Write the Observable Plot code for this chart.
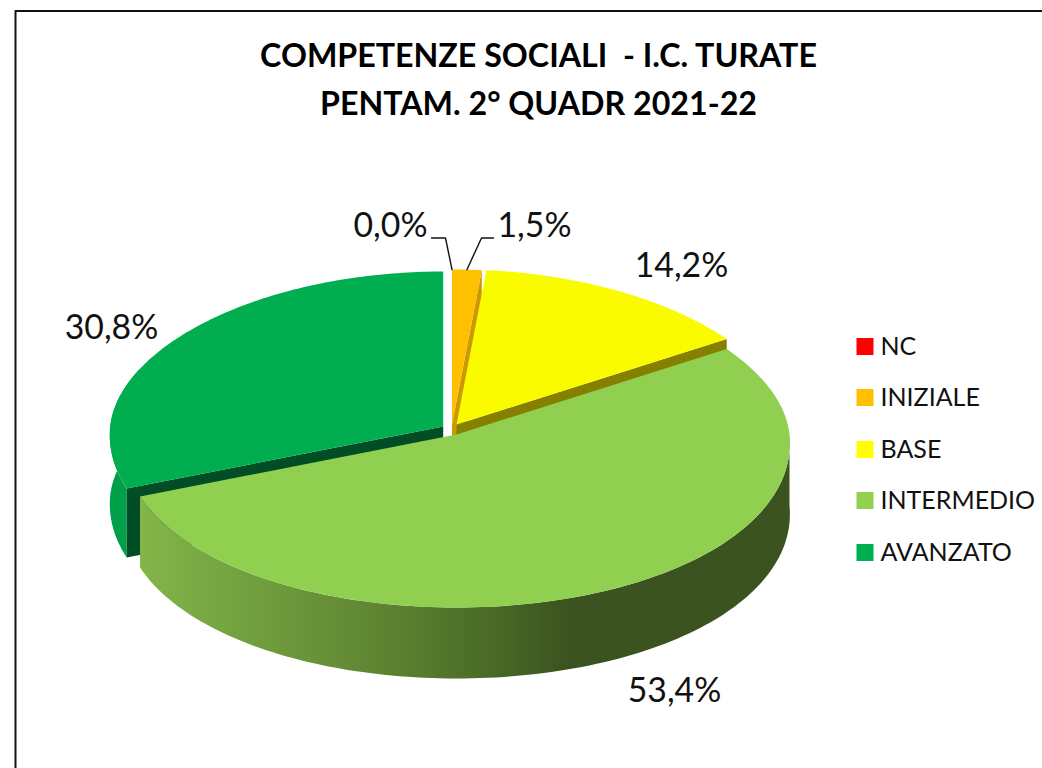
<!DOCTYPE html>
<html>
<head>
<meta charset="utf-8">
<script src="https://cdn.jsdelivr.net/npm/d3@7"></script>
<script src="https://cdn.jsdelivr.net/npm/@observablehq/plot@0.6"></script>
<style>
html,body{margin:0;padding:0;background:#fff;overflow:hidden}
svg{display:block}
</style>
</head>
<body>
<div id="chart"></div>
<script>
// ---- data ----
const categories = ["NC", "INIZIALE", "BASE", "INTERMEDIO", "AVANZATO"];
const values = [0.0, 1.5, 14.2, 53.4, 30.8];
const valueLabels = ["0,0%", "1,5%", "14,2%", "53,4%", "30,8%"];
const legendColors = ["#ff0000", "#ffc000", "#ffff00", "#92d050", "#00b050"];
const topColors = ["#ff0000", "#ffc000", "#fbfb00", "#90cf50", "#00ae50"];
const cutColors = ["#990000", "#cc9a00", "#858000", "#56792f", "#004d26"];
const titleLines = ["COMPETENZE SOCIALI  - I.C. TURATE", "PENTAM. 2° QUADR 2021-22"];

// ---- layout of the drawing (the slices' angles come from values) ----
const W = 1042, H = 768;
const depths = [71, 71, 71, 71, 69];
const apexes = [[447, 426], [451.5, 424], [456, 424], [456, 434], [442.7, 426]];
const labelPos = [[390, 226], [534, 226], [681, 266], [674, 691], [111, 328]];
const legendY = [346, 397, 449, 500, 552];
const pie = d3.pie().sort(null).value(d => d)(values);

// tilted-disc projection: the far half of the disc is flatter and narrower
function rim(i, a) {
  const [cx, cy] = apexes[i];
  const c = Math.cos(a), s = Math.sin(a);
  const rx = 333 * (1 - 0.05 * c);
  const ry = c > 0 ? 155 : 173;
  return [cx + rx * s, cy - ry * c];
}
const arcPts = (i, a0, a1) => d3.range(0, 121).map(k => rim(i, a0 + (a1 - a0) * k / 120));
const down = i => ([x, y]) => [x, y + depths[i]];
const ring = (i, a0, a1) => {
  const pts = arcPts(i, a0, a1);
  return [...pts, ...pts.slice().reverse().map(down(i))];
};
const cutFace = (i, a) => {
  const r = rim(i, a);
  return [apexes[i], r, down(i)(r), down(i)(apexes[i])];
};
const topFace = i => ({id: "top" + i, fill: topColors[i], pts: [apexes[i], ...arcPts(i, pie[i].startAngle, pie[i].endAngle)]});
const flat = rows => rows.flatMap(r => r.pts.map(([x, y]) => ({x, y, id: r.id, fill: r.fill})));

const under = [
  {id: "orange-cut", fill: cutColors[1], pts: cutFace(1, pie[1].endAngle)},
  {id: "yellow-cut", fill: cutColors[2], pts: cutFace(2, pie[2].endAngle)},
  {id: "green-outer", fill: "#00a04a", pts: ring(4, pie[4].startAngle, 1.62 * Math.PI)},
  {id: "green-cut", fill: cutColors[4], pts: cutFace(4, pie[4].startAngle)}
];
const tops = [1, 2, 4].map(topFace);
const lightSide = [{id: "light-outer", fill: "url(#sideShade)", pts: ring(3, Math.PI / 2, pie[3].endAngle)}];
const lightTop = [topFace(3)];

const labelRows = valueLabels.map((t, i) => ({t, x: labelPos[i][0], y: labelPos[i][1]}));

// leader lines from the two thin slices
const mid = i => (pie[i].startAngle + pie[i].endAngle) / 2;
const leaders = [
  [[431, 237.5], [445, 237.5], rim(1, pie[1].startAngle)],
  [[493, 237.5], [481, 237.5], rim(1, mid(1))]
].flatMap((l, id) => l.map(([x, y]) => ({x, y, id})));

const legendRows = categories.map((c, i) => ({c, y: legendY[i], color: legendColors[i]}));

const poly = rows => Plot.line(flat(rows), {x: "x", y: "y", z: "id", fill: "fill", stroke: null, curve: "linear"});

const shade = () => {
  const defs = d3.create("svg:defs");
  const g = defs.append("linearGradient").attr("id", "sideShade")
    .attr("gradientUnits", "userSpaceOnUse")
    .attr("x1", 140).attr("x2", 789).attr("y1", 0).attr("y2", 0);
  [[0, "#84b549"], [0.1, "#78a843"], [0.25, "#6a953a"], [0.4, "#5b8030"], [0.55, "#486826"], [0.66, "#3b531f"], [1, "#3b531f"]]
    .forEach(([o, c]) => g.append("stop").attr("offset", o).attr("stop-color", c));
  return defs.node();
};

const chart = Plot.plot({
  width: W, height: H,
  margin: 0,
  x: {domain: [0, W], range: [0, W], axis: null},
  y: {domain: [0, H], range: [0, H], axis: null},
  color: {type: "identity"},
  style: {background: "#fff", fontFamily: "Lato, 'Open Sans', sans-serif"},
  marks: [
    shade,
    // chart frame
    Plot.line([{x: 15, y: H}, {x: 15, y: 10.5}, {x: W, y: 10.5}], {x: "x", y: "y", stroke: "#111", strokeWidth: 2}),
    poly(under),
    poly(tops),
    poly(lightSide),
    poly(lightTop),
    Plot.line(leaders, {x: "x", y: "y", z: "id", stroke: "#111", strokeWidth: 1.4}),
    Plot.text(titleLines, {x: () => 538, y: (d, i) => [56, 104][i], text: d => d, fontSize: 32.2, fontWeight: 700, fill: "#000", lineAnchor: "middle"}),
    Plot.text(labelRows, {x: "x", y: "y", text: "t", fontSize: 33.8, fill: "#111", lineAnchor: "middle"}),
    Plot.dot(legendRows, {x: () => 864.5, y: "y", symbol: "square", r: 9.6, fill: "color", stroke: null}),
    Plot.text(legendRows, {x: () => 880, y: "y", text: "c", fontSize: 25, fill: "#111", textAnchor: "start", lineAnchor: "middle"})
  ]
});
document.getElementById("chart").append(chart);
</script>
</body>
</html>
